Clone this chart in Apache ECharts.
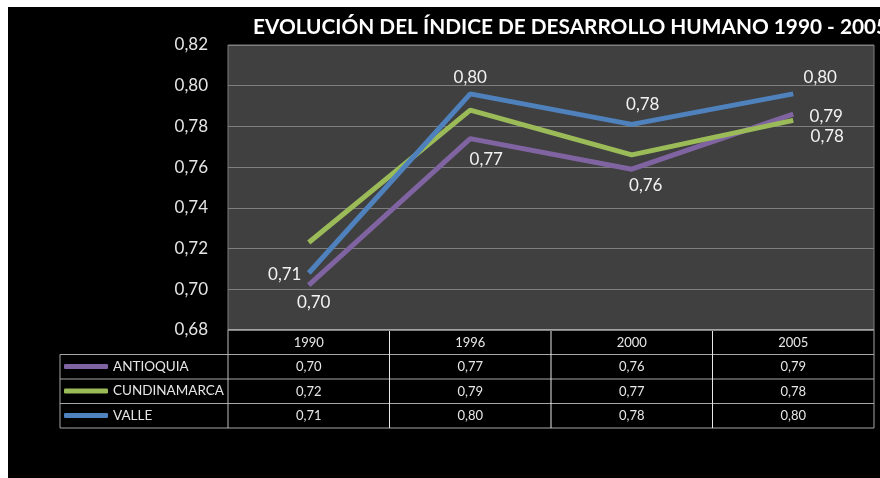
<!DOCTYPE html>
<html>
<head>
<meta charset="utf-8">
<script src="https://cdn.jsdelivr.net/npm/echarts@6/dist/echarts.min.js"></script>
<style>
  html, body { margin: 0; padding: 0; background: #fff; width: 880px; height: 478px; overflow: hidden; }
  #chart { position: absolute; left: 8px; top: 7px; width: 872px; height: 471px; background: #000; }
</style>
</head>
<body>
<div id="chart"></div>
<script>
const categories = ["1990", "1996", "2000", "2005"];
const antioquia = [0.702, 0.774, 0.759, 0.786];
const cundinamarca = [0.723, 0.788, 0.766, 0.783];
const valle = [0.708, 0.796, 0.781, 0.796];
const yMin = 0.68;
const yMax = 0.82;
const yStep = 0.02;

const FONT = "Lato";
const GRID = { left: 220, right: 6, top: 38, bottom: 148 };
const ROW_H = 24.5;
const LEGEND_LEFT = 52;

const fmt = v => Number(v).toFixed(2).replace(".", ",");

// label offsets per point (null = no label)
function points(values, offsets) {
  return values.map((v, i) => {
    const off = offsets[i];
    if (!off) return { value: v };
    return {
      value: v,
      label: { show: true, position: "inside", offset: off }
    };
  });
}

const rows = [
  { name: "ANTIOQUIA", values: antioquia, color: "#8064a2",
    offsets: [[5, 17], [16, 21], [14, 16], [33, 2]] },
  { name: "CUNDINAMARCA", values: cundinamarca, color: "#9bbb59",
    offsets: [null, null, null, [34, 16]] },
  { name: "VALLE", values: valle, color: "#4f81bd",
    offsets: [[-24, 2], [0, -16], [11, -20], [27, -16]] }
];

const chart = echarts.init(document.getElementById("chart"));
const W = chart.getWidth();
const H = chart.getHeight();
const plotRight = W - GRID.right;
const plotBottom = H - GRID.bottom;
const colW = (plotRight - GRID.left) / categories.length;

// table lines built from the grid layout
const lines = [];
const hLine = (x1, x2, y, c) => lines.push({ type: "line", shape: { x1, y1: y, x2, y2: y }, style: { stroke: c, lineWidth: 1 }, silent: true });
const vLine = (x, y1, y2, c) => lines.push({ type: "line", shape: { x1: x, y1, x2: x, y2 }, style: { stroke: c, lineWidth: 1 }, silent: true });
const tableBottom = plotBottom + ROW_H * (rows.length + 1);
hLine(GRID.left, plotRight, plotBottom, "#e8e8e8");
for (let r = 1; r <= rows.length + 1; r++) {
  hLine(LEGEND_LEFT, plotRight, plotBottom + ROW_H * r, "#a6a6a6");
}
vLine(LEGEND_LEFT, plotBottom + ROW_H, tableBottom, "#a6a6a6");
vLine(GRID.left, plotBottom, tableBottom, "#bfbfbf");
for (let c = 1; c < categories.length; c++) {
  vLine(GRID.left + colW * c, plotBottom, tableBottom, "#e8e8e8");
}
vLine(plotRight, plotBottom, tableBottom, "#a6a6a6");

const xAxes = [{
  type: "category",
  data: categories,
  position: "bottom",
  axisLine: { show: false },
  axisTick: { show: false },
  axisLabel: { margin: 6, color: "#e6e6e6", fontFamily: FONT, fontSize: 13 }
}].concat(rows.map((row, r) => ({
  type: "category",
  data: categories,
  position: "bottom",
  offset: ROW_H * (r + 1),
  axisLine: { show: false },
  axisTick: { show: false },
  axisLabel: {
    margin: 6, color: "#e6e6e6", fontFamily: FONT, fontSize: 13,
    formatter: (v, i) => fmt(row.values[i])
  }
})));

const option = {
  backgroundColor: "#000",
  animation: false,
  title: {
    text: "EVOLUCIÓN DEL ÍNDICE DE DESARROLLO HUMANO 1990 - 2005",
    left: 240,
    top: 5,
    textStyle: { color: "#fff", fontFamily: FONT, fontWeight: "bold", fontSize: 20.8 }
  },
  grid: {
    left: GRID.left, right: GRID.right, top: GRID.top, bottom: GRID.bottom,
    show: true, backgroundColor: "#404040", borderColor: "#7f7f7f", borderWidth: 1
  },
  legend: {
    orient: "vertical",
    padding: 0,
    left: LEGEND_LEFT + 4,
    top: plotBottom + ROW_H + 5,
    itemGap: 10.5,
    itemWidth: 44,
    itemHeight: 5,
    icon: "roundRect",
    data: rows.map(r => r.name),
    textStyle: { color: "#e6e6e6", fontFamily: FONT, fontSize: 13.5, lineHeight: 14 }
  },
  xAxis: xAxes,
  yAxis: {
    type: "value",
    min: yMin,
    max: yMax,
    interval: yStep,
    axisLine: { show: false },
    axisTick: { show: false },
    axisLabel: { margin: 20, color: "#e6e6e6", fontFamily: FONT, fontSize: 17, formatter: v => fmt(v) },
    splitLine: { lineStyle: { color: "#7f7f7f", width: 1 } }
  },
  graphic: lines,
  series: rows.map(row => ({
    name: row.name,
    type: "line",
    xAxisIndex: 0,
    data: points(row.values, row.offsets),
    symbol: "circle",
    symbolSize: 0,
    showSymbol: true,
    lineStyle: { color: row.color, width: 5 },
    itemStyle: { color: row.color },
    label: {
      show: false,
      color: "#f2f2f2",
      fontFamily: FONT,
      fontSize: 17,
      formatter: p => fmt(p.value)
    },
    emphasis: { disabled: true }
  }))
};
chart.setOption(option);
</script>
</body>
</html>
